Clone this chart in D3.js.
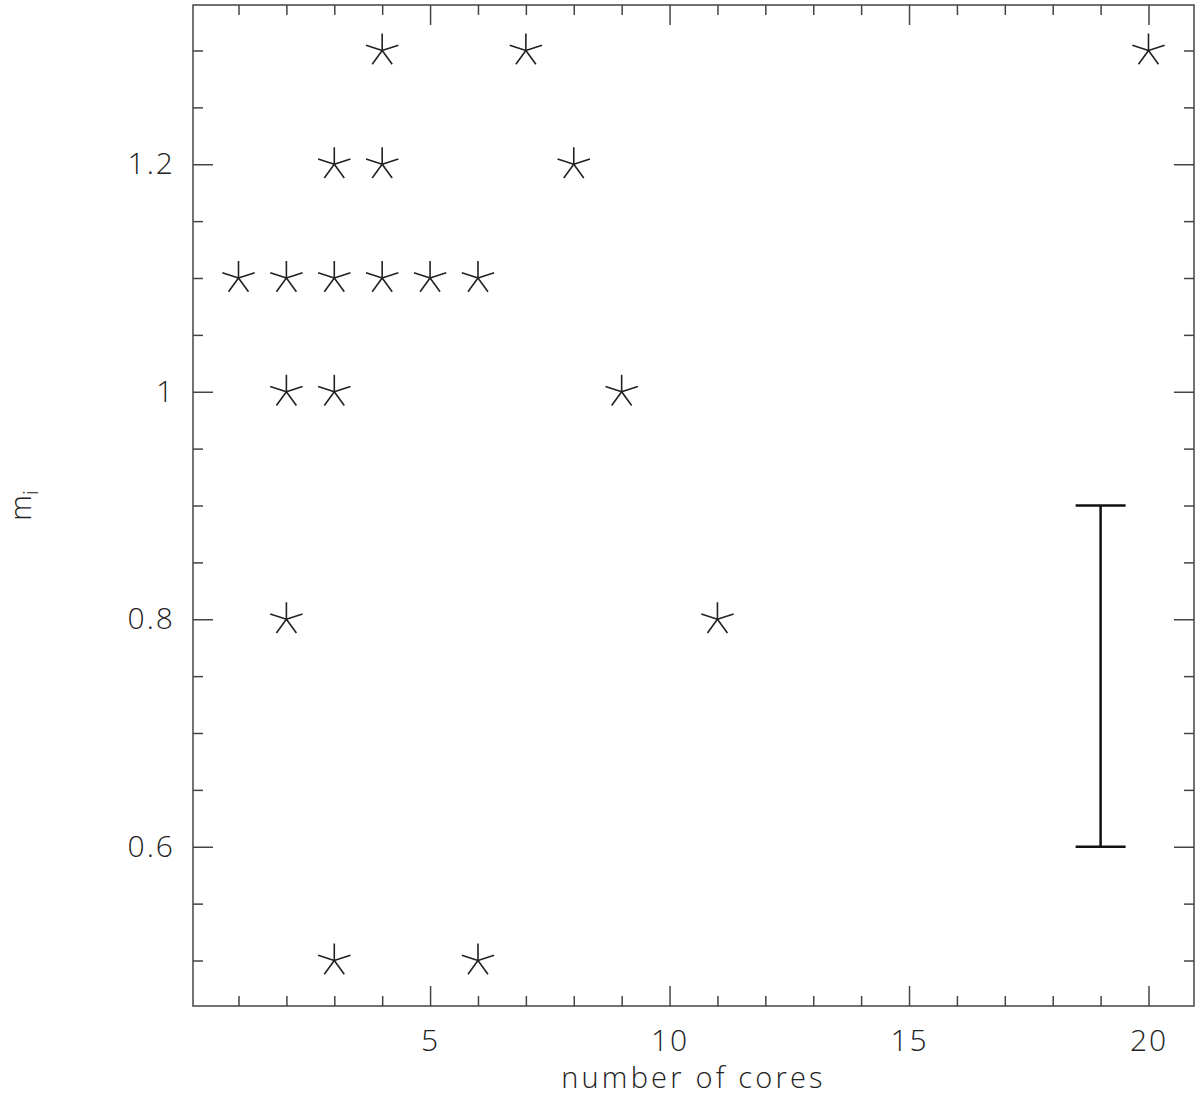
<!DOCTYPE html>
<html>
<head>
<meta charset="utf-8">
<script src="https://cdn.jsdelivr.net/npm/d3@7"></script>
<style>
  body { margin: 0; background: #fff; }
  text { font-family: 'Open Sans', sans-serif; font-weight: 300; fill: #222; }
</style>
</head>
<body>
<script>
const width = 1200;
const height = 1098;
const margin = { top: 5, right: 6, bottom: 92, left: 193 };

const cores = [1, 2, 3, 4, 5, 6, 3, 4, 8, 4, 7, 20, 2, 3, 9, 2, 11, 3, 6];
const mi = [1.1, 1.1, 1.1, 1.1, 1.1, 1.1, 1.2, 1.2, 1.2, 1.3, 1.3, 1.3, 1.0, 1.0, 1.0, 0.8, 0.8, 0.5, 0.5];
const errorBar = { x: 19, low: 0.6, high: 0.9 };
const xMajor = [5, 10, 15, 20];
const xMinor = d3.range(1, 21);
const yMajor = [0.6, 0.8, 1.0, 1.2];
const yMinor = d3.range(10, 27).map(d => d * 0.05);

const svg = d3.select('body')
  .append('svg')
    .attr('width', width)
    .attr('height', height);

const x = d3.scaleLinear()
  .domain([0.05, 20.95])
  .range([margin.left, width - margin.right]);

const y = d3.scaleLinear()
  .domain([0.46, 1.34])
  .range([height - margin.bottom, margin.top]);

const isMajor = (list, d) => list.some(v => Math.abs(v - d) < 1e-6);
const fmt = d3.format('~g');

// ticks on all four sides, pointing inward
const tickLen = (list) => (d) => isMajor(list, d) ? 20 : 10;

const axisStyle = (g) => {
  g.select('.domain').remove();
  g.selectAll('.tick line').attr('stroke', '#444').attr('stroke-width', 1.5);
  g.selectAll('.tick text').style('font-size', '30px').style('letter-spacing', '2px');
};

svg.append('g')
    .attr('transform', `translate(0, ${y.range()[0]})`)
    .call(d3.axisBottom(x).tickValues(xMinor).tickSize(0).tickPadding(24)
      .tickFormat(d => isMajor(xMajor, d) ? fmt(d) : ''))
    .call(axisStyle)
    .call(g => g.selectAll('.tick line').attr('y2', d => -tickLen(xMajor)(d)));

svg.append('g')
    .attr('transform', `translate(0, ${y.range()[1]})`)
    .call(d3.axisTop(x).tickValues(xMinor).tickSize(0).tickFormat(''))
    .call(axisStyle)
    .call(g => g.selectAll('.tick line').attr('y2', d => tickLen(xMajor)(d)));

svg.append('g')
    .attr('transform', `translate(${x.range()[0]}, 0)`)
    .call(d3.axisLeft(y).tickValues(yMinor).tickSize(0).tickPadding(18)
      .tickFormat(d => isMajor(yMajor, d) ? fmt(d) : ''))
    .call(axisStyle)
    .call(g => g.selectAll('.tick line').attr('x2', d => tickLen(yMajor)(d)));

svg.append('g')
    .attr('transform', `translate(${x.range()[1]}, 0)`)
    .call(d3.axisRight(y).tickValues(yMinor).tickSize(0).tickFormat(''))
    .call(axisStyle)
    .call(g => g.selectAll('.tick line').attr('x2', d => -tickLen(yMajor)(d)));

// frame
svg.append('rect')
    .attr('x', x.range()[0])
    .attr('y', y.range()[1])
    .attr('width', x.range()[1] - x.range()[0])
    .attr('height', y.range()[0] - y.range()[1])
    .attr('fill', 'none')
    .attr('stroke', '#444')
    .attr('stroke-width', 1.5);

// five-armed asterisk
const star = (r) => d3.range(5).map(i => {
  const a = i * 2 * Math.PI / 5;
  return `M0,0L${(r * Math.sin(a)).toFixed(2)},${(-r * Math.cos(a)).toFixed(2)}`;
}).join('');

svg.append('g')
  .selectAll('path')
  .data(cores.map((c, i) => ({ c, m: mi[i] })))
  .enter()
    .append('path')
    .attr('transform', d => `translate(${x(d.c)}, ${y(d.m)})`)
    .attr('d', star(17))
    .attr('fill', 'none')
    .attr('stroke', '#222')
    .attr('stroke-width', 1.6);

// error bar
const eb = svg.append('g')
  .attr('stroke', '#111')
  .attr('stroke-width', 2.5);

eb.append('line')
  .attr('x1', x(errorBar.x)).attr('x2', x(errorBar.x))
  .attr('y1', y(errorBar.low)).attr('y2', y(errorBar.high));

[errorBar.low, errorBar.high].forEach(v => {
  eb.append('line')
    .attr('x1', x(errorBar.x) - 25).attr('x2', x(errorBar.x) + 25)
    .attr('y1', y(v)).attr('y2', y(v));
});

// axis titles
svg.append('text')
  .attr('x', (x.range()[0] + x.range()[1]) / 2)
  .attr('y', 1088)
  .attr('text-anchor', 'middle')
  .style('font-size', '29px')
  .style('letter-spacing', '3.2px')
  .text('number of cores');

const yl = svg.append('text')
  .attr('transform', `translate(31, ${(y.range()[0] + y.range()[1]) / 2}) rotate(-90)`)
  .attr('text-anchor', 'middle')
  .style('font-size', '29px');
yl.append('tspan').text('m');
yl.append('tspan').attr('dy', 7).style('font-size', '21px').text('i');
</script>
</body>
</html>
